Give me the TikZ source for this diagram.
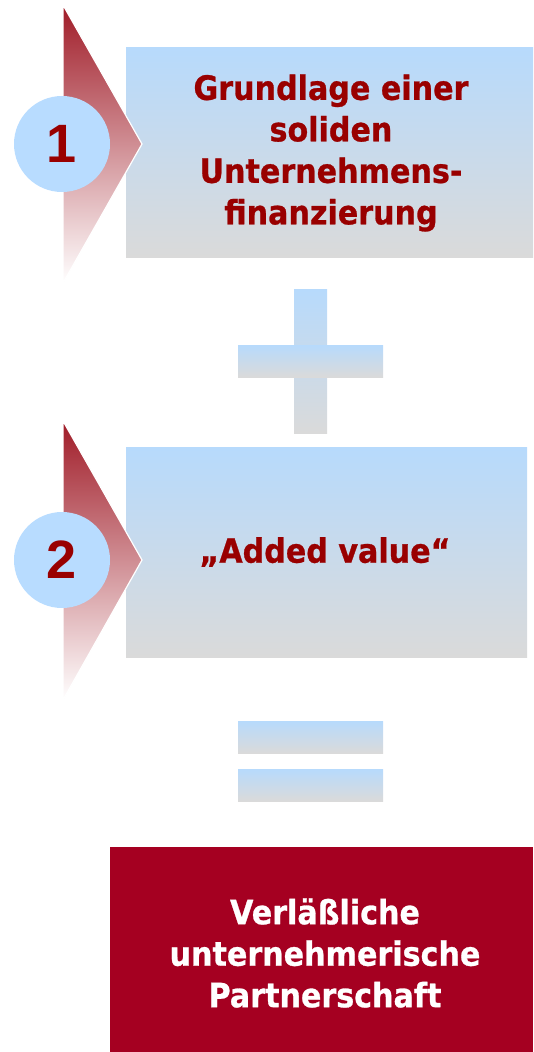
\documentclass[tikz,border=0pt]{standalone}
\usepackage{fontspec}
\setmainfont{DejaVu Sans}
\newfontfamily\boxfont[FakeStretch=0.9,BoldFeatures={FakeBold=0.8}]{DejaVu Sans}
\newfontfamily\numfont{Liberation Sans}
\definecolor{boxtop}{RGB}{183,218,252}
\definecolor{boxbot}{RGB}{218,218,218}
\definecolor{txtred}{RGB}{153,0,0}
\definecolor{tritop}{RGB}{160,28,40}
\definecolor{circfill}{RGB}{184,220,255}
\definecolor{resred}{RGB}{165,0,33}
\tikzset{
  gradbox/.style={top color=boxtop, bottom color=boxbot, draw=none},
  tri/.style={top color=tritop, bottom color=white, draw=white, line width=1.2pt, line join=miter},
  numcirc/.style={circle, fill=circfill, minimum size=96pt, inner sep=0pt, text=txtred,
    font=\numfont\bfseries\fontsize{54}{54}\selectfont},
  boxtext/.style={align=center, text=txtred, font=\boxfont\bfseries\fontsize{33.5}{41.5}\selectfont},
  restext/.style={align=center, text=white, font=\boxfont\bfseries\fontsize{33.5}{41.5}\selectfont}
}
\begin{document}
\begin{tikzpicture}[x=1pt,y=-1pt]
\useasboundingbox (0,0) rectangle (533,1052);
% box 1
\shade[gradbox] (126,47) rectangle (533,257);
\coordinate (b1) at (331,153);
\node[boxtext] (t1) at (b1) {Grundlage einer\\soliden\\Unternehmens-\\finanzierung};
% triangle 1 and circle 1
\shade[tri] (63,5) -- (142,144) -- (63,283) -- cycle;
\node[numcirc] (c1) at (62,144) {1};
% plus sign
\shade[gradbox] (294,289) rectangle (327,433);
\shade[gradbox] (238,345) rectangle (383,377);
% box 2
\shade[gradbox] (126,447) rectangle (527,657);
\node[boxtext] (t2) at (325,552) {„Added value“};
% triangle 2 and circle 2
\shade[tri] (63,421) -- (142,560) -- (63,700) -- cycle;
\node[numcirc] (c2) at (62,560) {2};
% equals sign
\shade[gradbox] (238,721) rectangle (383,753);
\shade[gradbox] (238,769) rectangle (383,801);
% result box
\fill[resred] (110,847) rectangle (533,1052);
\node[restext] (t3) at (325,953) {Verläßliche\\unternehmerische\\Partnerschaft};
\end{tikzpicture}
\end{document}
